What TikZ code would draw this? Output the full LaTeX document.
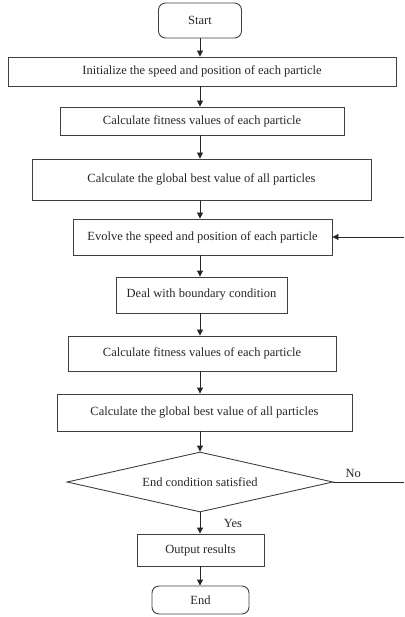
\documentclass[tikz,border=0pt]{standalone}
\usepackage{fontspec}
\setmainfont{Liberation Serif}
\usetikzlibrary{shapes.geometric,arrows.meta}
\begin{document}
\begin{tikzpicture}[x=1pt,y=-1pt,
  every node/.style={font=\fontsize{12.5}{14}\selectfont, text=black!85},
  procbox/.style={draw=black!75, line width=0.9pt, rectangle, inner sep=0pt},
  termbox/.style={draw=black!75, line width=0.9pt, rectangle, rounded corners=7pt, inner sep=0pt},
  decbox/.style={draw=black!75, line width=0.9pt, diamond, aspect=4.4, inner sep=0pt},
  arr/.style={draw=black!85, line width=0.9pt, -{Triangle[length=6pt,width=6pt]}},
  ln/.style={draw=black!85, line width=0.9pt},
  lbl/.style={font=\fontsize{12.5}{14}\selectfont}]
\useasboundingbox (0,0) rectangle (404,617);
\node[termbox, minimum width=83pt, minimum height=35pt] (start) at (200,20.5) {Start};
\node[procbox, minimum width=388pt, minimum height=29pt] (init) at (202,71.5) {Initialize the speed and position of each particle};
\node[procbox, minimum width=284pt, minimum height=28pt] (fit1) at (202,121) {Calculate fitness values of each particle};
\node[procbox, minimum width=339pt, minimum height=41pt] (glob1) at (201.5,179.5) {Calculate the global best value of all particles};
\node[procbox, minimum width=259pt, minimum height=36pt] (evolve) at (202.5,237) {Evolve the speed and position of each particle};
\node[procbox, minimum width=171pt, minimum height=36pt] (deal) at (201.5,295) {Deal with boundary condition};
\node[procbox, minimum width=268pt, minimum height=35pt] (fit2) at (202,353.5) {Calculate fitness values of each particle};
\node[procbox, minimum width=295pt, minimum height=37pt] (glob2) at (204.5,412.5) {Calculate the global best value of all particles};
\node[decbox, minimum width=266pt, minimum height=60pt] (dec) at (200,482) {End condition satisfied};
\node[procbox, minimum width=127pt, minimum height=32pt] (out) at (200.5,550) {Output results};
\node[termbox, minimum width=97pt, minimum height=28pt] (end) at (200.5,600) {End};
\coordinate (noend) at (404,482);
\coordinate (loopin) at (404,237);
\draw[arr] (start.south) -- (init.north -| start.south);
\draw[arr] (init.south -| start.south) -- (fit1.north -| start.south);
\draw[arr] (fit1.south -| start.south) -- (glob1.north -| start.south);
\draw[arr] (glob1.south -| start.south) -- (evolve.north -| start.south);
\draw[arr] (evolve.south -| start.south) -- (deal.north -| start.south);
\draw[arr] (deal.south -| start.south) -- (fit2.north -| start.south);
\draw[arr] (fit2.south -| start.south) -- (glob2.north -| start.south);
\draw[arr] (glob2.south -| start.south) -- (dec.north);
\draw[arr] (dec.south) -- (out.north -| dec.south) node[lbl, pos=0.5, right=20pt] (yes) {Yes};
\draw[arr] (out.south -| dec.south) -- (end.north -| dec.south);
\draw[ln] (dec.east) -- (noend) node[lbl, pos=0.28, above=1pt] (no) {No};
\draw[arr] (loopin) -- (evolve.east);
\end{tikzpicture}
\end{document}
